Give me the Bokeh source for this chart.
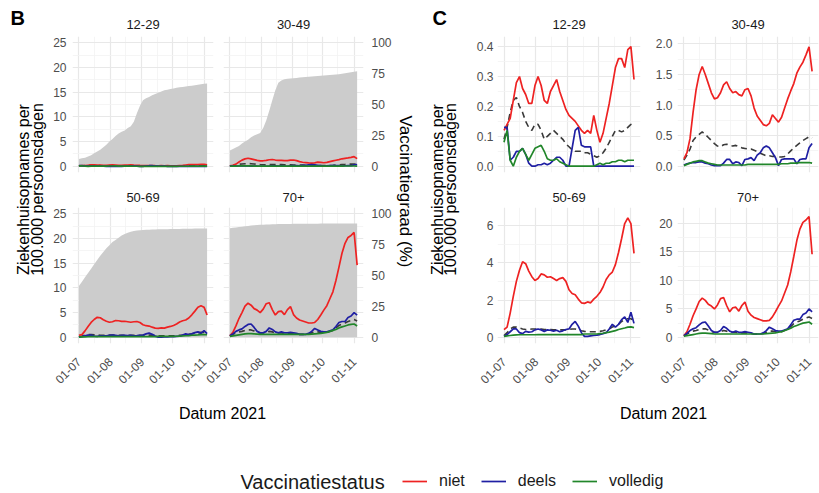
import pandas as pd
from math import pi
from bokeh.plotting import figure
from bokeh.layouts import row, column
from bokeh.models import (Range1d, LinearAxis, FixedTicker, DatetimeTickFormatter,
                          NumeralTickFormatter, Label, Legend, LegendItem, ColumnDataSource)
from bokeh.embed import file_html
from bokeh.resources import INLINE

# ---------------- data ----------------
dates = pd.date_range("2021-07-01", periods=43, freq="3D")
x_major = ["2021-07-01", "2021-08-01", "2021-09-01", "2021-10-01", "2021-11-01"]
x_minor = ["2021-07-16", "2021-08-16", "2021-09-16", "2021-10-16"]
age_groups = ["12-29", "30-49", "50-69", "70+"]
status_labels = ["niet", "deels", "volledig"]
pct_ticks = [0, 25, 50, 75, 100]

niet_12_29 = [0.12, 0.14, 0.16, 0.22, 0.28, 0.30, 0.26, 0.24, 0.21, 0.21, 0.27, 0.30, 0.27, 0.22, 0.21,
              0.25, 0.27, 0.29, 0.25, 0.22, 0.19, 0.17, 0.16, 0.15, 0.135, 0.12, 0.11, 0.12, 0.11, 0.17,
              0.12, 0.08, 0.11, 0.16, 0.21, 0.27, 0.33, 0.36, 0.36, 0.33, 0.39, 0.40, 0.29]
deels_12_29 = [0.13, 0.13, 0.02, 0.03, 0.05, 0.05, 0.06, 0.04, 0.01, 0.0, 0.0, 0.005, 0.005, 0.01, 0.005,
               0.01, 0.02, 0.03, 0.03, 0.02, 0.0, 0.0, 0.06, 0.12, 0.13, 0.07, 0.065, 0.065, 0.065, 0.0,
               0.0, 0.0, 0.0, 0.0, 0.0, 0.0, 0.0, 0.0, 0.0, 0.0, 0.0, 0.0, 0.0]
volledig_12_29 = [0.08, 0.12, 0.02, 0.0, 0.03, 0.05, 0.06, 0.04, 0.02, 0.04, 0.06, 0.065, 0.07, 0.05, 0.025,
                  0.02, 0.02, 0.025, 0.015, 0.01, 0.005, 0.0, 0.0, 0.0, 0.0, 0.0, 0.0, 0.0, 0.0, 0.0,
                  0.005, 0.01, 0.005, 0.01, 0.01, 0.015, 0.015, 0.02, 0.02, 0.015, 0.02, 0.02, 0.02]
totaal_12_29 = [0.09, 0.13, 0.18, 0.22, 0.23, 0.20, 0.18, 0.15, 0.13, 0.12, 0.14, 0.14, 0.12, 0.09, 0.10,
                0.11, 0.12, 0.11, 0.10, 0.09, 0.075, 0.065, 0.055, 0.05, 0.05, 0.05, 0.045, 0.045, 0.04, 0.035,
                0.03, 0.035, 0.045, 0.06, 0.08, 0.10, 0.12, 0.12, 0.115, 0.12, 0.13, 0.14, 0.13]
vacc_12_29 = [6, 6.5, 7, 8, 9, 10.5, 12, 13.5, 15.5, 17.5, 20, 22, 24.5, 26.5, 28, 29, 31, 32.5, 36, 43,
              49, 53.5, 55, 56, 57.5, 58.5, 59.5, 60.5, 61.5, 62, 62.5, 63, 63.5, 64, 64.2, 64.5, 65, 65.2,
              65.6, 66, 66.4, 66.8, 67]

niet_30_49 = [0.12, 0.22, 0.45, 0.88, 1.25, 1.50, 1.63, 1.50, 1.35, 1.20, 1.10, 1.12, 1.20, 1.33, 1.38,
              1.27, 1.20, 1.22, 1.17, 1.15, 1.25, 1.27, 1.15, 0.95, 0.82, 0.75, 0.68, 0.66, 0.70, 0.84,
              0.78, 0.72, 0.80, 0.95, 1.10, 1.23, 1.35, 1.52, 1.62, 1.70, 1.82, 1.95, 1.55]
deels_30_49 = [0.02, 0.04, 0.05, 0.06, 0.06, 0.07, 0.07, 0.05, 0.04, 0.02, 0.01, 0.01, 0.01, 0.05, 0.11,
               0.11, 0.04, 0.07, 0.06, 0.01, 0.11, 0.12, 0.14, 0.09, 0.18, 0.22, 0.30, 0.33, 0.30, 0.22,
               0.14, 0.01, 0.11, 0.12, 0.12, 0.12, 0.12, 0.04, 0.11, 0.12, 0.12, 0.30, 0.37]
volledig_30_49 = [0.01, 0.03, 0.05, 0.07, 0.08, 0.09, 0.09, 0.07, 0.05, 0.04, 0.03, 0.02, 0.02, 0.02, 0.02,
                  0.02, 0.02, 0.02, 0.02, 0.02, 0.02, 0.03, 0.03, 0.03, 0.03, 0.03, 0.03, 0.03, 0.03, 0.03,
                  0.03, 0.03, 0.04, 0.04, 0.04, 0.05, 0.05, 0.05, 0.06, 0.06, 0.06, 0.06, 0.05]
totaal_30_49 = [0.10, 0.18, 0.28, 0.42, 0.48, 0.52, 0.56, 0.52, 0.47, 0.42, 0.37, 0.33, 0.32, 0.35, 0.36,
                0.34, 0.33, 0.34, 0.32, 0.30, 0.29, 0.28, 0.28, 0.26, 0.24, 0.21, 0.19, 0.17, 0.17, 0.16,
                0.16, 0.15, 0.15, 0.16, 0.20, 0.25, 0.30, 0.34, 0.38, 0.42, 0.45, 0.48, 0.46]
vacc_30_49 = [12.8, 14, 15.2, 16.5, 18.5, 20, 21.5, 23.5, 25, 26, 27, 31, 37, 45, 53.5, 61.5, 67.5, 69.5,
              70.5, 70.8, 71, 71.2, 71.5, 71.8, 72, 72.2, 72.4, 72.6, 72.8, 73, 73.2, 73.4, 73.6, 73.8,
              74, 74.2, 74.4, 74.8, 75.2, 75.6, 76, 76.4, 76.8]

niet_50_69 = [0.41, 0.55, 1.3, 2.2, 3.0, 3.6, 4.05, 3.95, 3.55, 3.25, 3.05, 3.15, 3.40, 3.35, 3.22,
              3.25, 3.15, 3.05, 3.15, 3.20, 3.00, 2.55, 2.35, 2.28, 2.05, 1.85, 1.82, 1.90, 1.85, 2.05,
              2.20, 2.40, 2.70, 3.10, 3.35, 3.50, 3.90, 4.55, 5.30, 6.10, 6.40, 6.10, 4.50]
deels_50_69 = [0.05, 0.15, 0.30, 0.45, 0.45, 0.25, 0.20, 0.32, 0.28, 0.30, 0.40, 0.45, 0.40, 0.32, 0.40,
               0.38, 0.33, 0.38, 0.30, 0.35, 0.42, 0.45, 0.70, 0.85, 0.60, 0.25, 0.05, 0.05, 0.08, 0.10,
               0.12, 0.15, 0.20, 0.25, 0.45, 0.70, 0.55, 0.70, 0.95, 1.10, 0.80, 1.35, 0.75]
volledig_50_69 = [0.05, 0.08, 0.10, 0.12, 0.13, 0.14, 0.14, 0.14, 0.14, 0.14, 0.14, 0.15, 0.15, 0.15, 0.15,
                  0.15, 0.15, 0.15, 0.15, 0.15, 0.15, 0.15, 0.15, 0.15, 0.15, 0.15, 0.18, 0.18, 0.18, 0.18,
                  0.18, 0.20, 0.22, 0.25, 0.28, 0.32, 0.36, 0.42, 0.46, 0.50, 0.55, 0.56, 0.52]
totaal_50_69 = [0.10, 0.25, 0.45, 0.55, 0.55, 0.50, 0.45, 0.42, 0.42, 0.45, 0.45, 0.45, 0.45, 0.42, 0.42,
                0.42, 0.40, 0.40, 0.40, 0.40, 0.40, 0.42, 0.45, 0.45, 0.40, 0.35, 0.32, 0.30, 0.30, 0.30,
                0.30, 0.32, 0.35, 0.40, 0.45, 0.55, 0.60, 0.70, 0.85, 0.95, 1.0, 1.0, 0.85]
vacc_50_69 = [41.6, 45, 48.5, 52, 55.5, 59, 62.5, 66, 69, 72, 74.5, 77, 78.8, 80.5, 82.3, 83.5, 84.6, 85.3,
              86, 86.4, 86.6, 86.8, 87, 87.1, 87.2, 87.3, 87.4, 87.4, 87.5, 87.5, 87.6, 87.6, 87.7, 87.7,
              87.8, 87.8, 87.9, 87.9, 88, 88, 88, 88.1, 88.1]

niet_70 = [0.3, 1.0, 2.3, 3.8, 5.0, 6.3, 6.9, 6.5, 5.8, 5.5, 5.0, 5.7, 6.8, 7.0, 5.6, 4.5, 5.2, 5.3, 4.6,
           5.6, 6.2, 4.6, 3.9, 3.5, 3.3, 3.1, 2.9, 2.9, 3.0, 3.6, 4.5, 5.5, 6.4, 7.8, 9.2, 11.5, 14.2,
           17.0, 19.0, 20.2, 20.6, 21.2, 14.6]
deels_70 = [0.3, 0.7, 1.2, 1.5, 1.7, 2.2, 2.6, 2.7, 2.0, 1.2, 0.9, 0.9, 1.2, 1.9, 1.6, 1.1, 0.9, 1.1, 0.9,
            0.9, 1.0, 0.9, 0.8, 0.6, 0.6, 0.6, 0.8, 1.2, 1.8, 1.5, 1.2, 1.1, 1.1, 1.3, 1.5, 2.2, 3.0, 3.2,
            3.2, 4.0, 4.3, 5.0, 4.5]
volledig_70 = [0.2, 0.3, 0.4, 0.5, 0.6, 0.7, 0.75, 0.75, 0.7, 0.65, 0.6, 0.6, 0.6, 0.6, 0.6, 0.6, 0.6,
               0.6, 0.6, 0.6, 0.6, 0.6, 0.6, 0.6, 0.6, 0.6, 0.6, 0.65, 0.7, 0.75, 0.8, 0.9, 1.0, 1.2, 1.4,
               1.6, 1.9, 2.1, 2.3, 2.5, 2.6, 2.7, 2.3]
totaal_70 = [0.3, 0.6, 0.9, 1.1, 1.2, 1.4, 1.5, 1.5, 1.3, 1.0, 0.9, 0.9, 1.0, 1.2, 1.1, 0.9, 0.9, 0.9, 0.8,
             0.8, 0.8, 0.8, 0.7, 0.6, 0.6, 0.6, 0.7, 0.9, 1.1, 1.1, 1.0, 1.0, 1.0, 1.2, 1.4, 1.9, 2.4, 2.7,
             2.9, 3.2, 3.4, 3.6, 3.3]
vacc_70 = [88.3, 88.6, 88.9, 89.2, 89.5, 89.8, 90.1, 90.4, 90.6, 90.8, 91, 91.1, 91.2, 91.3, 91.4, 91.5,
           91.6, 91.6, 91.7, 91.7, 91.7, 91.8, 91.8, 91.8, 91.8, 91.9, 91.9, 91.9, 91.9, 91.9, 92, 92, 92,
           92, 92, 92, 92, 92, 92, 92, 92, 92, 92]

# ---------------- style ----------------
FONT = "Liberation Sans"
RED, BLUE, GREEN, DASH, AREA = "#EE2222", "#1F1FA3", "#21862A", "#3A3A3A", "#CCCCCC"
TICK_COL = "#4D4D4D"


def ms(d):
    return pd.Timestamp(d).value / 1e6


pad = (dates[-1] - dates[0]) * 0.05
X0, X1 = ms(dates[0] - pad), ms(dates[-1] + pad)

sources = {
    "12-29": ColumnDataSource(dict(date=dates, niet=niet_12_29, deels=deels_12_29, volledig=volledig_12_29,
                                   totaal=totaal_12_29, vacc=vacc_12_29)),
    "30-49": ColumnDataSource(dict(date=dates, niet=niet_30_49, deels=deels_30_49, volledig=volledig_30_49,
                                   totaal=totaal_30_49, vacc=vacc_30_49)),
    "50-69": ColumnDataSource(dict(date=dates, niet=niet_50_69, deels=deels_50_69, volledig=volledig_50_69,
                                   totaal=totaal_50_69, vacc=vacc_50_69)),
    "70+": ColumnDataSource(dict(date=dates, niet=niet_70, deels=deels_70, volledig=volledig_70,
                                 totaal=totaal_70, vacc=vacc_70)),
}


def style_axis(ax, standoff):
    ax.axis_line_color = None
    ax.major_tick_line_color = None
    ax.minor_tick_line_color = None
    ax.major_tick_out = 0
    ax.major_tick_in = 0
    ax.minor_tick_out = 0
    ax.minor_tick_in = 0
    ax.major_label_standoff = standoff
    ax.major_label_text_font = FONT
    ax.major_label_text_font_size = "12px"
    ax.major_label_text_color = TICK_COL


def panel(group, w, h, bl, br, bt, bb, yr, yt, ym, yfmt, show_x, show_y,
          vacc=False, right_axis=False, title_standoff=15, ystand=6):
    src = sources[group]
    p = figure(width=w, height=h, x_axis_type="datetime", x_range=Range1d(X0, X1),
               y_range=Range1d(*yr), output_backend="svg", toolbar_location=None,
               min_border_left=bl, min_border_right=br, min_border_top=bt, min_border_bottom=bb,
               title=group, border_fill_color=None, outline_line_color=None)
    p.title.align = "center"
    p.title.text_font = FONT
    p.title.text_font_size = "13px"
    p.title.text_font_style = "normal"
    p.title.text_color = "#1A1A1A"
    p.title.standoff = title_standoff

    xt = FixedTicker(ticks=[ms(d) for d in x_major], minor_ticks=[ms(d) for d in x_minor])
    p.xaxis.ticker = xt
    p.xgrid.ticker = xt
    p.xaxis.formatter = DatetimeTickFormatter(days="%d-%m", months="%d-%m", years="%d-%m")
    p.xaxis.major_label_orientation = pi / 4
    ytk = FixedTicker(ticks=yt, minor_ticks=ym)
    p.yaxis.ticker = ytk
    p.ygrid.ticker = ytk
    if yfmt:
        p.yaxis.formatter = NumeralTickFormatter(format=yfmt)
    for g in (p.xgrid, p.ygrid):
        g.grid_line_color = "#E8E8E8"
        g.grid_line_width = 1.2
        g.minor_grid_line_color = "#F2F2F2"
        g.minor_grid_line_width = 0.8

    if vacc:
        p.extra_y_ranges = {"pct": Range1d(yr[0] * 4, yr[1] * 4)}
        p.varea(x="date", y1=0, y2="vacc", source=src, y_range_name="pct", fill_color=AREA)
        if right_axis:
            ax = LinearAxis(y_range_name="pct", ticker=FixedTicker(ticks=pct_ticks))
            p.add_layout(ax, "right")

    p.line("date", "totaal", source=src, color=DASH, line_width=1.6, line_dash="6 4")
    p.line("date", "niet", source=src, color=RED, line_width=1.7)
    p.line("date", "deels", source=src, color=BLUE, line_width=1.7)
    p.line("date", "volledig", source=src, color=GREEN, line_width=1.7)

    for ax in p.axis:
        style_axis(ax, ystand)
    for ax in p.below:
        ax.major_label_standoff = 16
        ax.visible = show_x
    for ax in p.left:
        ax.visible = show_y
    return p


def strip(w, h):
    p = figure(width=w, height=h, x_range=Range1d(0, w), y_range=Range1d(0, h),
               output_backend="svg", toolbar_location=None, x_axis_location=None,
               y_axis_location=None, min_border_left=0, min_border_right=0,
               min_border_top=0, min_border_bottom=0, outline_line_color=None,
               border_fill_color=None, background_fill_color=None)
    p.grid.visible = False
    return p


def lab(p, x, y, text, size, angle=0.0, align="center", style="normal", color="#000000"):
    p.add_layout(Label(x=x, y=y, text=text, angle=angle, text_align=align, text_baseline="middle",
                       text_font=FONT, text_font_size=size, text_font_style=style, text_color=color))


TOP_H, BOT_H = 180, 212
B_YR = (-1.25, 26.25)
B_YT, B_YM = [0, 5, 10, 15, 20, 25], [2.5, 7.5, 12.5, 17.5, 22.5]

f1 = panel("12-29", 168, TOP_H, 24, 3, 36, 8, B_YR, B_YT, B_YM, None, False, True, vacc=True)
f2 = panel("30-49", 179, TOP_H, 7, 32, 36, 8, B_YR, B_YT, B_YM, None, False, False, vacc=True,
           right_axis=True, ystand=8)
f3 = panel("50-69", 168, BOT_H, 24, 3, 27, 49, B_YR, B_YT, B_YM, None, True, True, vacc=True,
           title_standoff=11)
f4 = panel("70+", 191, BOT_H, 19, 32, 27, 49, B_YR, B_YT, B_YM, None, True, False, vacc=True,
           right_axis=True, title_standoff=11, ystand=8)
f4.margin = (0, 0, 0, -12)

f5 = panel("12-29", 188, TOP_H, 35, 10, 36, 8, (-0.021, 0.434), [0, 0.1, 0.2, 0.3, 0.4],
           [0.05, 0.15, 0.25, 0.35], "0.0", False, True, ystand=4)
f6 = panel("30-49", 169, TOP_H, 27, 1, 36, 8, (-0.103, 2.12), [0, 0.5, 1.0, 1.5, 2.0],
           [0.25, 0.75, 1.25, 1.75], "0.0", False, True, ystand=5)
f7 = panel("50-69", 188, BOT_H, 35, 10, 27, 49, (-0.33, 6.96), [0, 2, 4, 6], [1, 3, 5], None,
           True, True, title_standoff=11, ystand=4)
f8 = panel("70+", 169, BOT_H, 27, 1, 27, 49, (-1.07, 22.8), [0, 5, 10, 15, 20],
           [2.5, 7.5, 12.5, 17.5], None, True, True, title_standoff=11, ystand=5)

STRIP_H = TOP_H + BOT_H
leftB = strip(48, STRIP_H)
lab(leftB, 10, STRIP_H - 17, "B", "20px", align="left", style="bold")
lab(leftB, 23, 203, "Ziekenhuisopnames per", "16px", angle=pi / 2)
lab(leftB, 37, 203, "100.000 persoonsdagen", "16px", angle=pi / 2)

rightB = strip(23, STRIP_H)
lab(rightB, 10, 201, "Vaccinatiegraad (%)", "17px", angle=-pi / 2)

leftC = strip(44, STRIP_H)
lab(leftC, 14, STRIP_H - 17, "C", "20px", align="left", style="bold")
lab(leftC, 19, 203, "Ziekenhuisopnames per", "16px", angle=pi / 2)
lab(leftC, 32, 203, "100.000 persoonsdagen", "16px", angle=pi / 2)

BOTTOM_H = 101
bottom = strip(819, BOTTOM_H)
lab(bottom, 222, 80, "Datum 2021", "16px")
lab(bottom, 663, 80, "Datum 2021", "16px")
lab(bottom, 240, 12, "Vaccinatiestatus", "20px", align="left", color="#1A1A1A")
nan = float("nan")
r_n = bottom.line(x=[nan], y=[nan], color=RED, line_width=1.7)
r_d = bottom.line(x=[nan], y=[nan], color=BLUE, line_width=1.7)
r_v = bottom.line(x=[nan], y=[nan], color=GREEN, line_width=1.7)
legend = Legend(items=[LegendItem(label=status_labels[0], renderers=[r_n]),
                       LegendItem(label=status_labels[1], renderers=[r_d]),
                       LegendItem(label=status_labels[2], renderers=[r_v])],
                orientation="horizontal", location=(402, 3), padding=0, margin=0, spacing=16,
                glyph_width=25, glyph_height=16, label_height=16, label_standoff=12,
                label_text_font=FONT, label_text_font_size="16px", label_text_color="#1A1A1A",
                border_line_color=None, background_fill_alpha=0)
bottom.add_layout(legend)

main = row(leftB, column(row(f1, f2), row(f3, f4)), rightB, leftC,
           column(row(f5, f6), row(f7, f8)))
page = column(main, bottom)

open("out.html", "w").write(file_html(page, INLINE))
